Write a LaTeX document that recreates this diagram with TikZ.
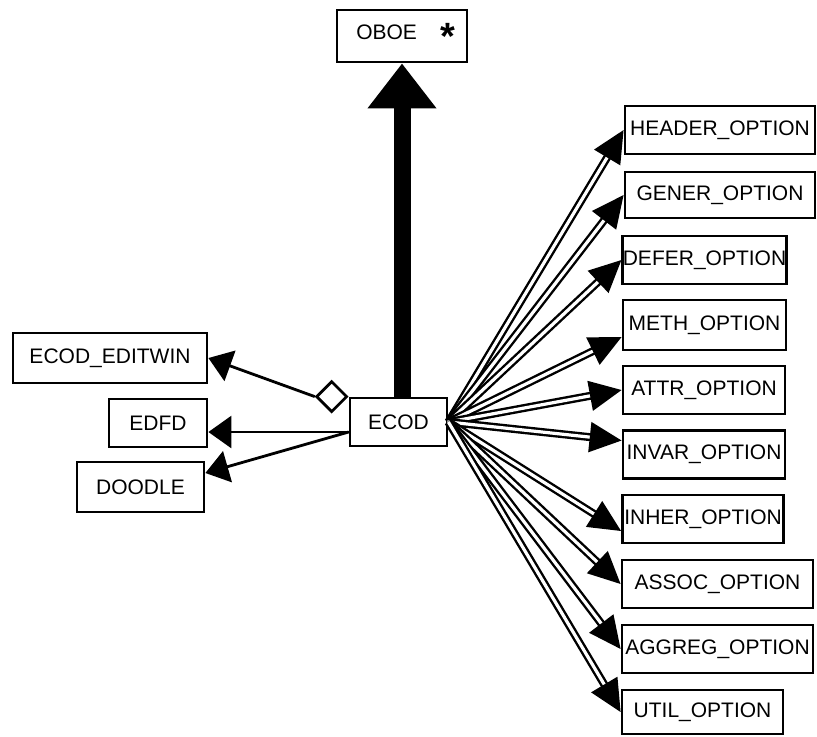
\documentclass[tikz,border=0pt]{standalone}
\usepackage{fontspec}
\setmainfont{Liberation Sans}
\usetikzlibrary{shapes.geometric, arrows.meta, calc}

\begin{document}
\begin{tikzpicture}[
    x = 0.5pt, y = -0.5pt,
    line width = 1.4pt,
    font = \fontsize{10.5}{12}\selectfont,
    box/.style = {rectangle,
      draw,
      inner sep = 0pt,
      minimum height = 24pt},
    option/.style = {box, minimum width = 80.5pt},
    wide/.style = {option, minimum width = 95pt},
    whole/.style = {diamond, draw, fill = white,
      inner sep = 0pt, minimum size = 15.5pt},
    link/.style = {-{Triangle[length = 11.5pt, width = 16pt]}},
    heir/.style = {line width = 8.5pt,
      -{Triangle[length = 22.5pt, width = 33pt]}},
    usage/.style = {double, line width = 1.2pt, double distance = 1.6pt,
      -{Triangle[length = 16pt, width = 15pt]}}
    ]
    \useasboundingbox (0, 0) rectangle (817, 736);

    \node at (402, 36) [box, name = OBOE, minimum width = 65pt, minimum height = 26pt]
    {\hspace*{4pt}OBOE\hspace{12pt}\raisebox{-5pt}{\fontsize{19}{19}\selectfont\bfseries *}};
    \node at (398.5, 422) [box, name = ECOD, minimum width = 48.5pt] {ECOD};

    \node at (110, 358) [box, name = editwin, minimum width = 97pt, minimum height = 25pt] {ECOD\_EDITWIN};
    \node at (158, 423) [box, name = edfd, minimum width = 49pt] {EDFD};
    \node at (140.5, 487) [box, name = doodle, minimum width = 63.5pt, minimum height = 25pt] {DOODLE};

    \node at (720, 130) [wide, name = header] {HEADER\_OPTION};
    \node at (720, 195) [wide, name = gener, minimum height = 23pt] {GENER\_OPTION};
    \node at (704.5, 260) [option, name = defer] {DEFER\_OPTION};
    \node at (704.5, 325) [option, name = meth, minimum width = 81.5pt, minimum height = 25pt] {METH\_OPTION};
    \node at (704, 390) [option, name = attr, minimum width = 81pt] {ATTR\_OPTION};
    \node at (704, 454.5) [option, name = invar, minimum width = 81pt] {INVAR\_OPTION};
    \node at (703, 519) [option, name = inher] {INHER\_OPTION};
    \node at (717.5, 584) [wide, name = assoc, minimum width = 95.5pt] {ASSOC\_OPTION};
    \node at (717.5, 649) [wide, name = aggreg, minimum width = 95.5pt] {AGGREG\_OPTION};
    \node at (702.5, 712) [option, name = util, minimum height = 22pt] {UTIL\_OPTION};

    % aggregation diamond on the corner of ECOD
    \node at (ECOD.north west) [whole, anchor = east, name = agg] {};
    \coordinate (fork) at ([yshift = -5pt]ECOD.west);

    \draw [heir] (OBOE.south |- ECOD.north) to (OBOE.south);

    \draw [link] (agg.west) to (editwin.east);
    \draw [link] (fork) to (fork -| edfd.east);
    \draw [link] (fork) to ([yshift = 7pt]doodle.east);

    \draw [usage] (ECOD.east) to (header.west);
    \draw [usage] (ECOD.east) to (gener.west);
    \draw [usage] (ECOD.east) to (defer.west);
    \draw [usage] (ECOD.east) to ([yshift = -6pt]meth.west);
    \draw [usage] (ECOD.east) to (attr.west);
    \draw [usage] (ECOD.east) to ([yshift = 7pt]invar.west);
    \draw [usage] (ECOD.east) to ([yshift = -6pt]inher.west);
    \draw [usage] (ECOD.east) to (assoc.west);
    \draw [usage] (ECOD.east) to (aggreg.west);
    \draw [usage] (ECOD.east) to (util.west);

  \end{tikzpicture}
\end{document}
